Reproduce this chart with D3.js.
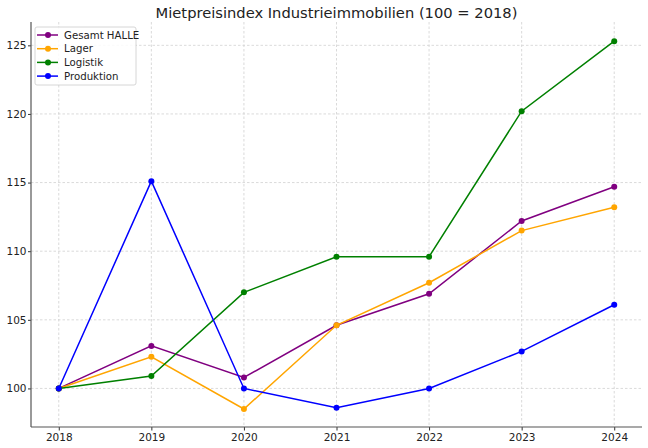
<!DOCTYPE html>
<html><head><meta charset="utf-8">
<script src="https://cdn.jsdelivr.net/npm/d3@7/dist/d3.min.js"></script>
<style>body{margin:0;background:#fff;} svg{display:block;font-family:"DejaVu Sans",sans-serif;}</style>
</head><body>
<script>
const years = [2018, 2019, 2020, 2021, 2022, 2023, 2024];
const seriesNames = ["Gesamt HALLE", "Lager", "Logistik", "Produktion"];
const gesamt = [100, 103.1, 100.8, 104.6, 106.9, 112.2, 114.7];
const lager = [100, 102.3, 98.5, 104.6, 107.7, 111.5, 113.2];
const logistik = [100, 100.9, 107.0, 109.6, 109.6, 120.2, 125.3];
const produktion = [100, 115.1, 100, 98.6, 100, 102.7, 106.1];
const colors = ["purple", "orange", "green", "blue"];
const yTicks = [100, 105, 110, 115, 120, 125];
const title = "Mietpreisindex Industrieimmobilien (100 = 2018)";

const W = 648, H = 448;
const m = {left: 31, right: 6, top: 22, bottom: 21};
const svg = d3.select("body").append("svg").attr("width", W).attr("height", H);

const x = d3.scaleLinear().domain([2017.7, 2024.3]).range([m.left, W - m.right]);
const y = d3.scaleLinear().domain([97.19, 126.7]).range([H - m.bottom, m.top]);

// grid
const g = svg.append("g");
g.selectAll(".vg").data(years).enter().append("line")
  .attr("x1", d => x(d)).attr("x2", d => x(d)).attr("y1", m.top).attr("y2", H - m.bottom)
  .attr("stroke", "#d0d0d0").attr("stroke-width", 0.8).attr("stroke-dasharray", "2.5,2");
g.selectAll(".hg").data(yTicks).enter().append("line")
  .attr("x1", m.left).attr("x2", W - m.right).attr("y1", d => y(d)).attr("y2", d => y(d))
  .attr("stroke", "#d0d0d0").attr("stroke-width", 0.8).attr("stroke-dasharray", "2.5,2");

// axes
const xAxis = d3.axisBottom(x).tickValues(years).tickFormat(d3.format("d")).tickSize(3.5).tickPadding(3.5);
const yAxis = d3.axisLeft(y).tickValues(yTicks).tickSize(3).tickPadding(1.5);
const gx = svg.append("g").attr("transform", `translate(0,${H - m.bottom})`).call(xAxis);
const gy = svg.append("g").attr("transform", `translate(${m.left},0)`).call(yAxis);
[gx, gy].forEach(a => {
  a.select(".domain").remove();
  a.selectAll("text").attr("font-size", 10.5).attr("fill", "#222").attr("font-family", "DejaVu Sans");
  a.selectAll("line").attr("stroke", "#333");
});
svg.append("line").attr("x1", m.left).attr("x2", m.left).attr("y1", m.top).attr("y2", H - m.bottom)
  .attr("stroke", "#555").attr("stroke-width", 1.2);
svg.append("line").attr("x1", m.left).attr("x2", W - m.right).attr("y1", H - m.bottom).attr("y2", H - m.bottom)
  .attr("stroke", "#555").attr("stroke-width", 1.2);

// series
const allData = [gesamt, lager, logistik, produktion];
const line = d3.line().x((d, i) => x(years[i])).y(d => y(d));
allData.forEach((vals, k) => {
  svg.append("path").datum(vals).attr("d", line).attr("fill", "none")
    .attr("stroke", colors[k]).attr("stroke-width", 1.5);
  svg.selectAll(null).data(vals).enter().append("circle")
    .attr("cx", (d, i) => x(years[i])).attr("cy", d => y(d)).attr("r", 3).attr("fill", colors[k]);
});

// title
svg.append("text").attr("x", (m.left + W - m.right) / 2).attr("y", 18).attr("text-anchor", "middle")
  .attr("font-size", 14.7).attr("fill", "#222").text(title);

// legend
const lg = svg.append("g").attr("transform", "translate(35,27)");
lg.append("rect").attr("x", 0).attr("y", 0).attr("width", 101).attr("height", 58).attr("rx", 2)
  .attr("fill", "white").attr("fill-opacity", 0.85).attr("stroke", "#ccc").attr("stroke-width", 0.8);
seriesNames.forEach((n, k) => {
  const yy = 8 + k * 13.7;
  lg.append("line").attr("x1", 2).attr("x2", 23).attr("y1", yy).attr("y2", yy).attr("stroke", colors[k]).attr("stroke-width", 1.5);
  lg.append("circle").attr("cx", 13).attr("cy", yy).attr("r", 3).attr("fill", colors[k]);
  lg.append("text").attr("x", 29).attr("y", yy + 3.6).attr("font-size", 10.2).attr("fill", "#222").text(n);
});
</script>
</body></html>
